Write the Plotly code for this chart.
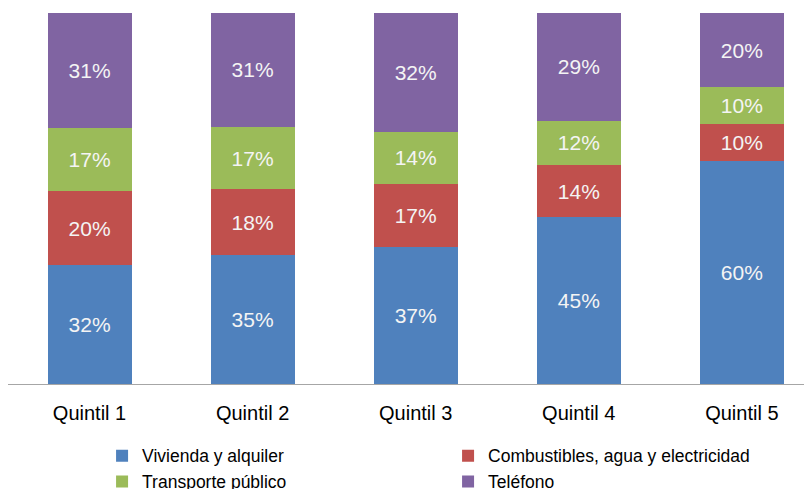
import plotly.graph_objects as go

quintiles = ['Quintil 1', 'Quintil 2', 'Quintil 3', 'Quintil 4', 'Quintil 5']

vivienda = [32, 35, 37, 45, 60]
combustibles = [20, 18, 17, 14, 10]
transporte = [17, 17, 14, 12, 10]
telefono = [31, 31, 32, 29, 20]

series = [
    ('Vivienda y alquiler', vivienda, '#4F81BD'),
    ('Combustibles, agua y electricidad', combustibles, '#C0504D'),
    ('Transporte público', transporte, '#9BBB59'),
    ('Teléfono', telefono, '#8064A2'),
]

fig = go.Figure()
for name, vals, color in series:
    fig.add_trace(go.Bar(
        x=quintiles, y=vals, name=name,
        marker=dict(color=color, line=dict(width=0)),
        text=[f'{v}%' for v in vals],
        textposition='inside', insidetextanchor='middle',
        textfont=dict(color='#F4F4F4', size=21),
        hoverinfo='skip',
    ))

# the page adds an 8px body margin, so the figure is 8px smaller than the window
fig.update_layout(
    barmode='stack', barnorm='percent', bargap=0.485,
    width=804, height=481,
    margin=dict(l=0, r=0, t=5, b=105, autoexpand=False),
    paper_bgcolor='white', plot_bgcolor='white',
    font=dict(family='Liberation Sans, Arial, sans-serif', color='#000000'),
    showlegend=True,
    legend=dict(orientation='h', x=0.117, xanchor='left', y=-0.145, yanchor='top',
                entrywidth=301, traceorder='normal',
                font=dict(size=17.5), itemwidth=30),
    xaxis=dict(range=[-0.5, 4.43], showline=True, linecolor='#A6A6A6', linewidth=1,
               ticks='outside', ticklen=11, tickcolor='rgba(0,0,0,0)',
               tickfont=dict(size=20), showgrid=False),
    yaxis=dict(range=[0, 100], visible=False, showgrid=False),
)

fig.write_html('out.html')
